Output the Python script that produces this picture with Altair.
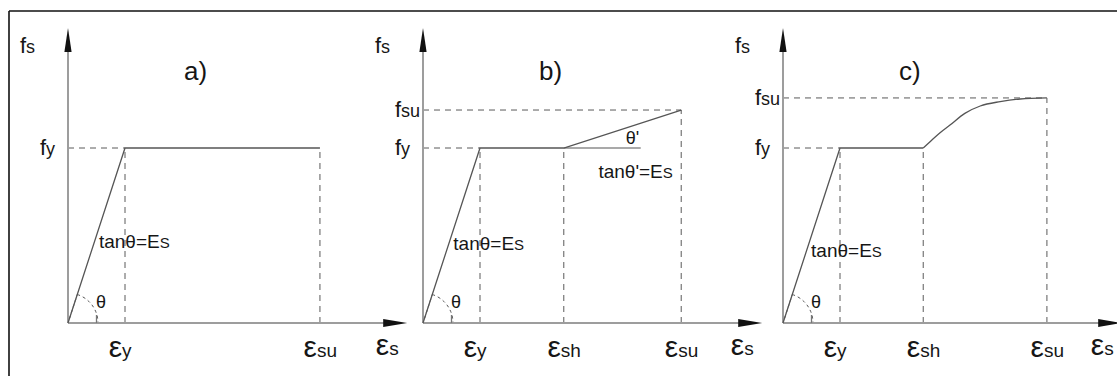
import altair as alt
import pandas as pd

# ---------------------------------------------------------------------------
# Idealised stress-strain laws for reinforcing steel
# strains are in multiples of eps_y, stresses in multiples of f_y
# ---------------------------------------------------------------------------
panel_names = ["a)", "b)", "c)"]
eps_y = [1.0, 1.0, 1.0]
eps_sh = [None, 2.47, 2.46]
eps_su = [4.42, 4.53, 4.63]
f_y = [1.0, 1.0, 1.0]
f_su = [None, 1.217, 1.286]

# a) elastic - perfectly plastic
curve_a_eps = [0.0, 1.0, 4.42]
curve_a_f = [0.0, 1.0, 1.0]
# b) elastic - plateau - linear hardening
curve_b_eps = [0.0, 1.0, 2.47, 4.53]
curve_b_f = [0.0, 1.0, 1.0, 1.217]
# c) elastic - plateau, then a curved hardening branch
curve_c_eps = [0.0, 1.0, 2.46]
curve_c_f = [0.0, 1.0, 1.0]
harden_c_eps = [2.46, 2.58, 2.75, 2.93, 3.19, 3.46, 3.81, 4.16, 4.63]
harden_c_f = [1.0, 1.036, 1.086, 1.131, 1.198, 1.240, 1.265, 1.280, 1.286]

# end of the thin reference line drawn along f_y in b)
plateau_ref_end = 3.82

# tick labels
eps_tick_subs = [["y", "su"], ["y", "sh", "su"], ["y", "sh", "su"]]
f_tick_subs = [["y"], ["y", "su"], ["y", "su"]]

# ---------------------------------------------------------------------------
# layout
# ---------------------------------------------------------------------------
W, H = 1117, 376
PX_EPS, PX_F = 57.0, 175.0          # pixels per unit strain / stress
ORIGIN_PX = [68, 423, 783]          # x pixel of each panel's origin
BASE_PX = 323                        # y pixel of the strain axes
AXIS_EPS = 5.74                      # arrow centre on strain axis
AXIS_F = 1.617                       # arrow centre on stress axis
offsets = [(o - ORIGIN_PX[0]) / PX_EPS for o in ORIGIN_PX]

xdom = [-ORIGIN_PX[0] / PX_EPS, (W - ORIGIN_PX[0]) / PX_EPS]
ydom = [-(H - BASE_PX) / PX_F, BASE_PX / PX_F]
xs = alt.Scale(domain=xdom, nice=False, zero=False)
ys = alt.Scale(domain=ydom, nice=False, zero=False)

FONT = "Liberation Sans"
INK = "#161616"
CURVE = "#555555"
AXIS = "#9d9d9d"
DASH = "#5a5a5a"


def X(field="X"):
    return alt.X(f"{field}:Q", scale=xs, axis=None)


def Y(field="Y"):
    return alt.Y(f"{field}:Q", scale=ys, axis=None)


# ---- curves -----------------------------------------------------------------
rows = []
for p, (ex, fy_) in enumerate([(curve_a_eps, curve_a_f),
                               (curve_b_eps, curve_b_f),
                               (curve_c_eps, curve_c_f)]):
    for i, (e, f) in enumerate(zip(ex, fy_)):
        rows.append({"panel": panel_names[p], "i": i, "X": e + offsets[p], "Y": f})
curves = pd.DataFrame(rows)

curve_layer = alt.Chart(curves).mark_line(
    color=CURVE, strokeWidth=1.3
).encode(x=X(), y=Y(), detail="panel:N", order="i:Q")

harden = pd.DataFrame({"i": range(len(harden_c_eps)),
                       "X": [e + offsets[2] for e in harden_c_eps],
                       "Y": harden_c_f})
harden_layer = alt.Chart(harden).mark_line(
    color=CURVE, strokeWidth=1.3, interpolate="monotone"
).encode(x=X(), y=Y(), order="i:Q")

# ---- dashed guide lines -----------------------------------------------------
seg = []
for p in range(3):
    o = offsets[p]
    seg.append((o, f_y[p], o + eps_y[p], f_y[p]))
    seg.append((o + eps_y[p], 0, o + eps_y[p], f_y[p]))
    top = f_su[p] if f_su[p] is not None else f_y[p]
    seg.append((o + eps_su[p], 0, o + eps_su[p], top))
    if eps_sh[p] is not None:
        seg.append((o + eps_sh[p], 0, o + eps_sh[p], f_y[p]))
    if f_su[p] is not None:
        seg.append((o, f_su[p], o + eps_su[p], f_su[p]))
segs = pd.DataFrame(seg, columns=["X", "Y", "X2", "Y2"])
dash_layer = alt.Chart(segs).mark_rule(
    color=DASH, strokeWidth=1, strokeDash=[6, 5]
).encode(x=X(), y=Y(), x2="X2:Q", y2="Y2:Q")

# thin reference line for theta' in b)
ref = pd.DataFrame([{"X": offsets[1] + eps_sh[1], "Y": f_y[1],
                     "X2": offsets[1] + plateau_ref_end, "Y2": f_y[1]}])
ref_layer = alt.Chart(ref).mark_rule(color=CURVE, strokeWidth=1.2).encode(
    x=X(), y=Y(), x2="X2:Q", y2="Y2:Q")

# ---- axes with arrow heads --------------------------------------------------
ax = []
for p in range(3):
    o = offsets[p]
    ax.append((o, 0, o + AXIS_EPS, 0))
    ax.append((o, 0, o, AXIS_F))
axes = pd.DataFrame(ax, columns=["X", "Y", "X2", "Y2"])
axis_layer = alt.Chart(axes).mark_rule(color=AXIS, strokeWidth=2).encode(
    x=X(), y=Y(), x2="X2:Q", y2="Y2:Q")

origins = pd.DataFrame({"X": offsets, "Y": [0.0] * 3})
heads_r = origins.assign(X=origins["X"] + AXIS_EPS)
heads_u = origins.assign(Y=AXIS_F)
arrow_r = alt.Chart(heads_r).mark_point(
    shape="M-1,-0.33L1,0L-1,0.33Z", size=576, filled=True, color="#111111", opacity=1
).encode(x=X(), y=Y())
arrow_u = alt.Chart(heads_u).mark_point(
    shape="M-0.3,1L0,-1L0.3,1Z", size=576, filled=True, color="#111111", opacity=1
).encode(x=X(), y=Y())

# small tick at half the yield strain and the theta arc
ticks = origins.assign(X=origins["X"] + 0.5)
tick_layer = alt.Chart(ticks).mark_point(
    shape="M0,0L0,-1", size=256, filled=False, color="#777777", strokeWidth=1.3, opacity=1
).encode(x=X(), y=Y())
arc_layer = alt.Chart(origins).mark_arc(
    radius=30, theta=0.315, theta2=1.5708, fillOpacity=0,
    stroke=CURVE, strokeWidth=1, strokeDash=[3, 3]
).encode(x=X(), y=Y())

# ---- text -------------------------------------------------------------------
def text_layer(df, size, align, dx, dy, baseline="alphabetic"):
    return alt.Chart(df).mark_text(
        font=FONT, fontSize=size, color=INK, align=align, baseline=baseline,
        dx=dx, dy=dy
    ).encode(x=X(), y=Y(), text="t:N")


# strain tick labels: epsilon + subscript
eps_rows = []
for p in range(3):
    vals = {"y": eps_y[p], "sh": eps_sh[p], "su": eps_su[p]}
    for s in eps_tick_subs[p]:
        eps_rows.append({"X": offsets[p] + vals[s], "Y": 0.0, "sub": s})
eps_df = pd.DataFrame(eps_rows)
eps_main = text_layer(eps_df.assign(t="ε"), 30, "right", -3, 34)
eps_sub = text_layer(eps_df.assign(t=eps_df["sub"]), 19, "left", -3, 34)

# stress tick labels: f + subscript
f_rows = []
for p in range(3):
    vals = {"y": f_y[p], "su": f_su[p]}
    for s in f_tick_subs[p]:
        f_rows.append({"X": offsets[p], "Y": vals[s], "sub": s})
f_df = pd.DataFrame(f_rows)
f_main = text_layer(f_df.assign(t="f"), 22, "right", -22, 7)
f_sub = text_layer(f_df.assign(t=f_df["sub"]), 18, "left", -22, 7)

# axis names
fs_df = heads_u.assign(t="f")
fs_main = text_layer(fs_df, 22, "right", -42, 13)
fs_sub = text_layer(fs_df.assign(t="s"), 18, "left", -42, 13)
es_df = heads_r.assign(t="ε")
es_main = text_layer(es_df, 30, "right", -6, 32)
es_sub = text_layer(es_df.assign(t="s"), 19, "left", -6, 32)

# panel titles
titles = heads_u.assign(t=panel_names)
title_layer = text_layer(titles, 26, "left", 116, 40)

# tan(theta) = Es next to the elastic branch
tan_at = [0.45, 0.44, 0.40]
tan_df = pd.DataFrame({"X": [offsets[p] + tan_at[p] for p in range(3)],
                       "Y": tan_at, "t": ["tanθ=E"] * 3})
tan_main = text_layer(tan_df, 19, "right", 66, 4)
tan_sub = text_layer(tan_df.assign(t="S"), 15, "left", 66, 4)

theta_df = origins.assign(t="θ")
theta_layer = text_layer(theta_df, 18, "left", 28, -15)

# theta' and its definition in b)
hard_df = pd.DataFrame([{"X": offsets[1] + eps_sh[1], "Y": f_y[1]}])
thp = text_layer(hard_df.assign(t="θ'"), 18, "left", 62, -4)
tanp_main = text_layer(hard_df.assign(t="tanθ'=E"), 19, "right", 99, 30)
tanp_sub = text_layer(hard_df.assign(t="S"), 15, "left", 99, 30)

# ---- outer frame (top and left edges) --------------------------------------
one = pd.DataFrame({"k": [0]})
frame_top = alt.Chart(one).mark_rule(color="#111111", strokeWidth=1.6).encode(
    x=alt.value(9), x2=alt.value(W), y=alt.value(11))
frame_left = alt.Chart(one).mark_rule(color="#111111", strokeWidth=1.6).encode(
    x=alt.value(9), y=alt.value(11), y2=alt.value(H))

chart = alt.layer(
    dash_layer, arc_layer, axis_layer, ref_layer, curve_layer, harden_layer,
    tick_layer, arrow_r, arrow_u,
    eps_main, eps_sub, f_main, f_sub, fs_main, fs_sub, es_main, es_sub,
    title_layer, tan_main, tan_sub, theta_layer, thp, tanp_main, tanp_sub,
    frame_top, frame_left,
).properties(
    width=W, height=H, autosize=alt.AutoSizeParams(type="none"), padding=0,
    background="white",
).configure_view(stroke=None)

chart.save("out.html", embed_options={"renderer": "svg", "actions": False})
